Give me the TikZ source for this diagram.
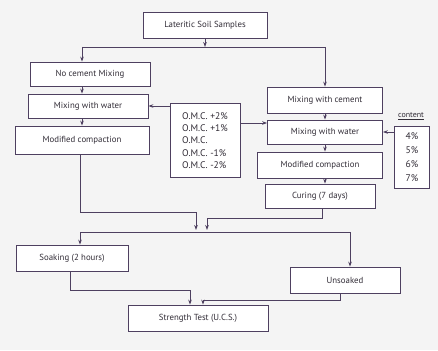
\documentclass[tikz,border=0pt]{standalone}
\usepackage{fontspec}
\setmainfont{PT Sans}
\usetikzlibrary{arrows.meta}
\definecolor{ln}{RGB}{78,64,96}
\definecolor{tx}{RGB}{50,45,55}
\definecolor{bg}{RGB}{244,244,244}
\begin{document}
\begin{tikzpicture}[x=1pt,y=-1pt,
  box/.style={draw=ln,line width=0.8pt,fill=white,text=tx,inner sep=2pt,minimum height=24,font=\fontsize{8.8}{11}\selectfont},
  conn/.style={draw=ln,line width=0.8pt},
  arr/.style={conn,-{Stealth[length=5pt,width=3.6pt]}}]
\fill[bg] (0,0) rectangle (438,350);
\useasboundingbox (0,0) rectangle (438,350);
% nodes
\node[box,minimum width=124,minimum height=26] (L0) at (205,25) {Lateritic Soil Samples};
\node[box,minimum width=120] (A1) at (90,74) {No cement Mixing};
\node[box,minimum width=120] (A2) at (88,106) {Mixing with water};
\node[box,minimum width=134,minimum height=28] (A3) at (82,140) {Modified compaction};
\node[box,minimum width=70,minimum height=74,align=left,inner sep=4pt,anchor=north,font=\fontsize{9.6}{12.3}\selectfont] (OMC) at (205,103)
  {O.M.C. +2\%\\O.M.C. +1\%\\O.M.C.\\O.M.C. -1\%\\O.M.C. -2\%};
\node[box,minimum width=115,minimum height=26] (B1) at (325,100) {Mixing with cement};
\node[box,minimum width=115] (B2) at (325,132) {Mixing with water};
\node[box,minimum width=125,minimum height=26] (B3) at (320,165) {Modified compaction};
\node[box,minimum width=110] (B4) at (320,196) {Curing (7 days)};
\node[text=tx,font=\fontsize{8}{9}\selectfont,inner sep=1pt] (CL) at (411,116) {\underline{content}};
\node[box,minimum width=35,minimum height=62,align=center,inner sep=3pt,font=\fontsize{9.6}{14}\selectfont] (CT) at (412,157) {4\%\\5\%\\6\%\\7\%};
\node[box,minimum width=112,minimum height=26] (C1) at (72,258) {Soaking (2 hours)};
\node[box,minimum width=110,minimum height=26] (C2) at (345,280) {Unsoaked};
\node[box,minimum width=140,minimum height=26] (D) at (198,318) {Strength Test (U.C.S.)};
% coordinates
\coordinate (j1) at (205,47);
\coordinate (xl) at (82,0);
\coordinate (xr) at (325,0);
\coordinate (om) at (240,123);
\coordinate (pl1) at (80,212);
\coordinate (pl2) at (196,212);
\coordinate (pl3) at (196,230);
\coordinate (pr1) at (322,218);
\coordinate (pr2) at (207,218);
\coordinate (pr3) at (207,230);
\coordinate (d1) at (80,232);
\coordinate (d2) at (350,232);
\coordinate (q1) at (70,290);
\coordinate (q2) at (190,290);
\coordinate (r1) at (340,300);
\coordinate (r2) at (203,300);
% connectors
\draw[arr] (L0) -- (j1);
\draw[conn] (j1 -| xl) -- (j1 -| xr);
\draw[arr] (j1 -| xl) -- (A1.north -| xl);
\draw[arr] (j1 -| xr) -- (B1.north -| xr);
\draw[arr] (A1.south -| xl) -- (A2.north -| xl);
\draw[arr] (A2.south -| xl) -- (A3.north -| xl);
\draw[arr] (OMC.west |- A2) -- (A2.east);
\draw[arr] (OMC.east |- om) -- (B2.west |- om);
\draw[arr] (B1.south -| xr) -- (B2.north -| xr);
\draw[arr] (CT.west |- B2) -- (B2.east);
\draw[arr] (B2.south -| xr) -- (B3.north -| xr);
\draw[arr] (B3.south -| xr) -- (B4.north -| xr);
\draw[conn] (A3.south -| pl1) -- (pl1) -- (pl2);
\draw[arr] (pl2) -- (pl3);
\draw[conn] (B4.south -| pr1) -- (pr1) -- (pr2);
\draw[arr] (pr2) -- (pr3);
\draw[conn] (d1) -- (d2);
\draw[arr] (d1) -- (C1.north -| d1);
\draw[arr] (d2) -- (C2.north -| d2);
\draw[conn] (C1.south -| q1) -- (q1) -- (q2);
\draw[arr] (q2) -- (D.north -| q2);
\draw[conn] (C2.south -| r1) -- (r1) -- (r2);
\draw[arr] (r2) -- (D.north -| r2);
\end{tikzpicture}
\end{document}
